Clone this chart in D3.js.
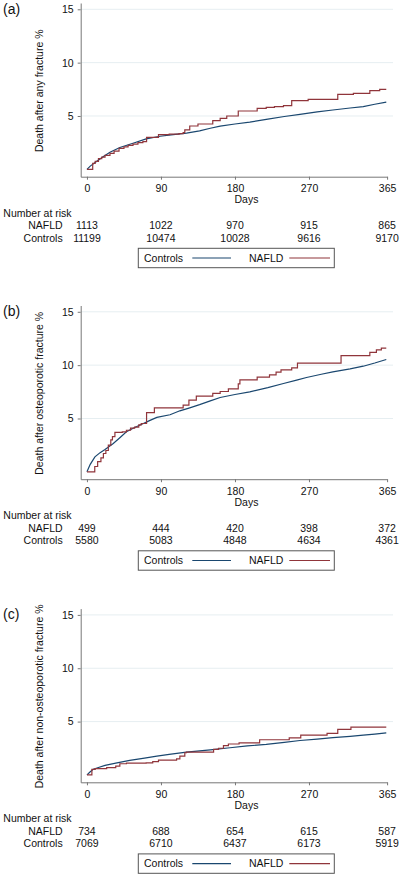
<!DOCTYPE html>
<html>
<head>
<meta charset="utf-8">
<script src="https://cdn.jsdelivr.net/npm/d3@7/dist/d3.min.js"></script>
<style>
  html, body { margin: 0; padding: 0; background: #fff; }
  svg { display: block; }
  text { font-family: "Liberation Sans", Arial, Helvetica, sans-serif; fill: #111; }
</style>
</head>
<body>
<svg id="chart" width="400" height="877"></svg>
<script>
// ---- Data ----
const panelLabels = ["(a)", "(b)", "(c)"];
const yTitles = ["Death after any fracture %", "Death after osteoporotic fracture %", "Death after non-osteoporotic fracture %"];
const xTicks = [0, 90, 180, 270, 365];
const yTicks = [5, 10, 15];
const seriesNames = ["Controls", "NAFLD"];

const riskNAFLD_a = [1113, 1022, 970, 915, 865];
const riskControls_a = [11199, 10474, 10028, 9616, 9170];
const riskNAFLD_b = [499, 444, 420, 398, 372];
const riskControls_b = [5580, 5083, 4848, 4634, 4361];
const riskNAFLD_c = [734, 688, 654, 615, 587];
const riskControls_c = [7069, 6710, 6437, 6173, 5919];

// [day, cumulative death %]
const controls_a = [[0,0],[4,0.3],[12,0.75],[20,1.2],[28,1.6],[40,2.05],[56,2.45],[72,2.85],[89,3.1],[105,3.25],[121,3.4],[137,3.6],[150,3.85],[162,4.05],[180,4.25],[198,4.42],[220,4.7],[240,4.95],[259,5.15],[280,5.38],[299,5.56],[320,5.75],[336,5.88],[350,6.1],[364,6.3]];
const nafld_a = [[0,0],[7,0.56],[10,0.75],[14,1.0],[18,1.15],[22,1.3],[28,1.5],[33,1.7],[39,1.97],[45,2.1],[50,2.25],[56,2.37],[62,2.5],[68,2.6],[72.5,3.0],[87,3.25],[100,3.3],[112,3.35],[117,3.45],[119,3.7],[125,4.06],[135,4.25],[153,4.56],[162,4.78],[170,5.0],[184,5.47],[207,5.72],[218,5.8],[228,5.88],[239,5.97],[249,6.44],[269,6.56],[305,7.03],[324,7.12],[344,7.37],[356,7.5],[364,7.5]];

const controls_b = [[0,0],[4,0.7],[9.7,1.4],[16,1.8],[22,2.1],[32,2.66],[40,3.2],[48,3.75],[58,4.15],[68,4.5],[76,4.8],[85,5.1],[101,5.35],[113,5.72],[125,6.0],[137,6.3],[150,6.65],[162,6.97],[180,7.25],[198,7.5],[220,7.9],[239,8.28],[255,8.6],[267,8.84],[285,9.15],[299,9.37],[320,9.65],[336,9.9],[350,10.2],[364,10.53]];
const nafld_b = [[0,0],[9.5,0.5],[13,0.95],[17,1.3],[20,1.72],[23,2.0],[26,2.5],[29,3.0],[31,3.3],[34,3.7],[43,3.75],[48,3.9],[53,4.1],[58,4.2],[63,4.4],[66,4.53],[72.5,5.55],[82,6.0],[117,6.25],[124,6.72],[133,7.1],[153,7.35],[162,7.53],[172,7.78],[184,8.25],[186,8.62],[207,8.87],[222,9.09],[230,9.34],[236,9.56],[249,9.75],[256,10.19],[309,10.9],[344,11.2],[352,11.44],[358,11.6],[364,11.6]];

const controls_c = [[0,0],[4,0.3],[7.7,0.52],[14,0.7],[22,0.89],[35,1.1],[52,1.36],[70,1.58],[85,1.76],[100,1.92],[121,2.14],[150,2.35],[174,2.55],[195,2.72],[218,2.86],[240,3.05],[259,3.23],[280,3.36],[299,3.49],[320,3.62],[336,3.73],[350,3.83],[364,3.95]];
const nafld_c = [[0,0],[6,0.52],[10,0.6],[24,0.68],[35,0.83],[40,1.05],[48,1.1],[72,1.14],[80,1.25],[87,1.38],[109,1.5],[113,1.76],[119,2.08],[121,2.14],[154,2.39],[160,2.5],[166,2.75],[172,2.9],[185,3.0],[210,3.3],[246,3.48],[260,3.73],[292,3.89],[305,4.27],[321,4.48],[364,4.48]];

const panels = [
  { controls: controls_a, nafld: nafld_a, riskN: riskNAFLD_a, riskC: riskControls_a },
  { controls: controls_b, nafld: nafld_b, riskN: riskNAFLD_b, riskC: riskControls_b },
  { controls: controls_c, nafld: nafld_c, riskN: riskNAFLD_c, riskC: riskControls_c }
];

// ---- Style ----
const colors = { Controls: "#1a476f", NAFLD: "#90353b" };
const offsets = [0, 302.5, 605.6];
const FS = 10.5;

const svg = d3.select("#chart");

panels.forEach((p, i) => {
  const oy = offsets[i];
  const g = svg.append("g");

  const x = d3.scaleLinear().domain([-7.6, 365]).range([80.7, 387.1]);
  const y = d3.scaleLinear().domain([-0.69, 15.59]).range([oy + 176.7, oy + 3]);

  // gridlines
  g.append("g").selectAll("line").data(yTicks).join("line")
    .attr("x1", 81).attr("x2", 393)
    .attr("y1", d => y(d)).attr("y2", d => y(d))
    .attr("stroke", "#e6eef1").attr("stroke-width", 1);

  // y axis
  const ya = g.append("g").attr("transform", "translate(80.7,0)")
    .call(d3.axisLeft(y).tickValues(yTicks).tickSize(3).tickSizeOuter(0).tickPadding(4));
  ya.select(".domain").attr("stroke", "#777");
  ya.selectAll(".tick line").attr("stroke", "#777");
  ya.selectAll(".tick text").style("font-size", FS + "px").attr("fill", "#111")
    .style("font-family", "'Liberation Sans', Arial, sans-serif");

  // x axis
  const xa = g.append("g").attr("transform", `translate(0,${oy + 176.7})`)
    .call(d3.axisBottom(x).tickValues(xTicks).tickSize(3).tickSizeOuter(0).tickPadding(5));
  xa.select(".domain").attr("stroke", "#777");
  xa.selectAll(".tick line").attr("stroke", "#777");
  xa.selectAll(".tick text").style("font-size", FS + "px").attr("fill", "#111")
    .style("font-family", "'Liberation Sans', Arial, sans-serif");

  // curves
  const lineSmooth = d3.line().x(d => x(d[0])).y(d => y(d[1]));
  const lineStep = d3.line().x(d => x(d[0])).y(d => y(d[1])).curve(d3.curveStepAfter);
  g.append("path").datum(p.controls).attr("d", lineSmooth)
    .attr("fill", "none").attr("stroke", colors.Controls).attr("stroke-width", 1.2);
  g.append("path").datum(p.nafld).attr("d", lineStep)
    .attr("fill", "none").attr("stroke", colors.NAFLD).attr("stroke-width", 1.2);

  // panel label
  g.append("text").attr("x", 3).attr("y", oy + 13.5).style("font-size", "14px").text(panelLabels[i]);

  // y title
  g.append("text")
    .attr("transform", `translate(43,${oy + 90.8}) rotate(-90)`)
    .attr("text-anchor", "middle").style("font-size", FS + "px").text(yTitles[i]);

  // x title
  g.append("text").attr("x", 246.5).attr("y", oy + 203).attr("text-anchor", "middle")
    .style("font-size", FS + "px").text("Days");

  // number at risk
  g.append("text").attr("x", 3.3).attr("y", oy + 216.5).style("font-size", FS + "px").text("Number at risk");
  g.append("text").attr("x", 62.7).attr("y", oy + 229.3).attr("text-anchor", "end")
    .style("font-size", FS + "px").text(seriesNames[1]);
  g.append("text").attr("x", 62.7).attr("y", oy + 241.7).attr("text-anchor", "end")
    .style("font-size", FS + "px").text(seriesNames[0]);
  g.append("g").selectAll("text").data(p.riskN).join("text")
    .attr("x", (d, k) => x(xTicks[k])).attr("y", oy + 229.3).attr("text-anchor", "middle")
    .style("font-size", FS + "px").text(d => d);
  g.append("g").selectAll("text").data(p.riskC).join("text")
    .attr("x", (d, k) => x(xTicks[k])).attr("y", oy + 241.7).attr("text-anchor", "middle")
    .style("font-size", FS + "px").text(d => d);

  // legend
  const lg = g.append("g");
  lg.append("rect").attr("x", 138.3).attr("y", oy + 248.3).attr("width", 196).attr("height", 19.4)
    .attr("fill", "#fff").attr("stroke", "#555").attr("stroke-width", 1);
  lg.append("text").attr("x", 144).attr("y", oy + 261.5).style("font-size", FS + "px").text(seriesNames[0]);
  lg.append("line").attr("x1", 192.3).attr("x2", 231).attr("y1", oy + 258).attr("y2", oy + 258)
    .attr("stroke", colors.Controls).attr("stroke-width", 1.2);
  lg.append("text").attr("x", 249).attr("y", oy + 261.5).style("font-size", FS + "px").text(seriesNames[1]);
  lg.append("line").attr("x1", 289.3).attr("x2", 330).attr("y1", oy + 258).attr("y2", oy + 258)
    .attr("stroke", colors.NAFLD).attr("stroke-width", 1.2);
});
</script>
</body>
</html>
